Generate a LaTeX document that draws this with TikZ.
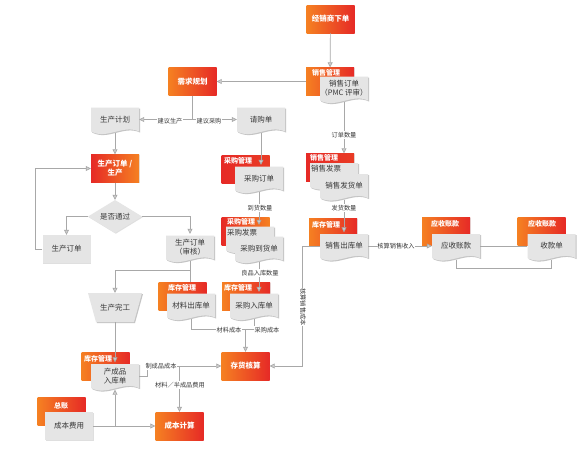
\documentclass[tikz,border=0pt]{standalone}
\usepackage{fontspec}
\setmainfont{Noto Sans CJK SC}
\usetikzlibrary{arrows.meta,calc,shapes.geometric,shadows}
\definecolor{or1}{RGB}{245,128,34}
\definecolor{rd1}{RGB}{230,42,38}
\definecolor{docg}{RGB}{229,229,229}
\definecolor{shg}{RGB}{196,196,196}
\definecolor{lng}{RGB}{168,168,168}
\definecolor{txt}{RGB}{55,55,55}
\tikzset{
 obox/.style={rectangle, minimum width=48pt, minimum height=28pt, inner sep=1pt,
   left color=or1, right color=rd1, text=white, align=center,
   font=\fontsize{7.5}{9}\selectfont\bfseries,
   drop shadow={shadow xshift=0.8pt,shadow yshift=-0.8pt,opacity=0.2}},
 rbox/.style={obox, left color=rd1, right color=or1},
 redbox/.style={obox, left color=rd1, right color=rd1!80!or1},
 glabel/.style={text=white, font=\fontsize{7}{8}\selectfont\bfseries, inner sep=0pt},
 doctxt/.style={rectangle, minimum width=48pt, minimum height=27pt, inner sep=0pt,
   text=txt, align=center, font=\fontsize{7.5}{9}\selectfont},
 gbox/.style={rectangle, minimum width=48pt, minimum height=28pt, inner sep=1pt,
   fill=docg, text=txt, font=\fontsize{7.5}{9}\selectfont,
   drop shadow={shadow xshift=0.8pt,shadow yshift=-0.8pt,opacity=0.25}},
 diamondst/.style={diamond, aspect=1.64, minimum width=54pt, minimum height=33pt, inner sep=0pt,
   fill=docg, text=txt, font=\fontsize{7.5}{9}\selectfont,
   drop shadow={shadow xshift=0.8pt,shadow yshift=-0.8pt,opacity=0.25}},
 ln/.style={draw=lng, line width=0.7pt},
 arr/.style={ln, -{Triangle[width=5pt,length=5pt,fill=lng!55]}},
 lbl/.style={fill=white, text=txt, font=\fontsize{6.2}{7}\selectfont, inner sep=0.8pt},
 pics/docpic/.style={code={
   \fill[shg] (-23,-12.5) -- (25,-12.5) -- (25,11.5) .. controls (9,4) and (-7,20) .. (-23,11.5) -- cycle;
   \fill[docg] (-24,-13.5) -- (24,-13.5) -- (24,10.5) .. controls (8,3) and (-8,19) .. (-24,10.5) -- cycle;
 }}
}
\newcommand{\docn}[4]{%
  \pic at (#2,#3) {docpic};
  \node[doctxt] (#1) at (#2,#3-1.5) {#4};
}
\begin{document}
\begin{tikzpicture}[x=1pt,y=-1pt]
\fill[white] (0,0) rectangle (584,450);
\useasboundingbox (0,0) rectangle (584,450);

% ---- sales / planning
\node[obox] (jxs) at (330.5,19) {经销商下单};
\node[obox] (xs1) at (330,81.5) {};
\node[glabel] at (326,73) {销售管理};
\docn{xsdd}{344}{90}{销售订单\\（PMC 评审）}
\node[obox] (xq) at (192.5,81.5) {需求规划};
\docn{scjh}{115}{121}{生产计划}
\docn{qg}{261}{121}{请购单}

% ---- production
\node[rbox] (sc) at (115,168.5) {生产订单 /\\生产};
\node[diamondst] (sf) at (115,216.5) {是否通过};
\node[gbox] (rsc) at (66.5,249) {生产订单};
\docn{sh}{190}{249}{生产订单\\（审核）}

% ---- purchase
\node[redbox] (cg1) at (245.5,169) {};
\node[glabel] at (238,161) {采购管理};
\docn{cgdd}{259}{180}{采购订单}
\node[rbox] (cg2) at (245.5,231) {};
\node[glabel] at (241,222) {采购管理};
\docn{cgfp}{250}{240}{}
\node[doctxt, minimum width=0pt, minimum height=0pt] at (242,233) {采购发票};
\docn{cgdh}{259}{250}{采购到货单}

% ---- stock
\node[obox] (kc1) at (182.5,296) {};
\node[glabel] at (182,288) {库存管理};
\docn{cl}{191}{307}{材料出库单}
\node[obox] (kc2) at (246,296) {};
\node[glabel] at (238,288) {库存管理};
\docn{cgrk}{254}{307}{采购入库单}
\node[obox] (ch) at (245.5,366) {存货核算};

% ---- sales 2
\node[redbox] (xs2) at (330,167.5) {};
\node[glabel] at (324,158) {销售管理};
\docn{xsfp}{334}{176.5}{}
\node[doctxt, minimum width=0pt, minimum height=0pt] at (326,169) {销售发票};
\docn{xsfh}{344}{187.5}{销售发货单}
\node[obox] (kc3) at (333,232.5) {};
\node[glabel] at (326,225) {库存管理};
\docn{xsck}{344}{247.5}{销售出库单}

% ---- receivables
\node[obox] (ys1) at (446,231) {};
\node[glabel] at (445,224) {应收账款};
\docn{ys}{456}{247.5}{应收账款}
\node[obox] (ys2) at (541.5,231) {};
\node[glabel] at (542,224) {应收账款};
\docn{sk}{551.5}{247.5}{收款单}

% ---- completion / cost
\fill[shg] (89,294) -- (143,294) -- (135,323) -- (97,323) -- cycle;
\fill[docg] (88,293) -- (142,293) -- (134,322) -- (96,322) -- cycle;
\node[doctxt, minimum width=54pt, minimum height=29pt] (wg) at (115,307.5) {生产完工};
\node[obox] (kc4) at (105.5,366.5) {};
\node[glabel] at (98,359) {库存管理};
\docn{cp}{115}{377.5}{产成品\\入库单}
\node[obox] (zz) at (61.5,411.5) {};
\node[glabel] at (61,406) {总账};
\node[gbox] (cbfy) at (69,426) {成本费用};
\node[obox] (cb) at (179.5,426) {成本计算};

% ---- connectors
\draw[arr] (jxs) -- (xs1);
\draw[arr] (xs1) -- (xq);
\draw[arr] (xq.south) |- (scjh.east);
\draw[arr] (xq.south) |- (qg.west);
\node[lbl] at (170,121) {建议生产};
\node[lbl] at (209,121) {建议采购};
\draw[arr] (scjh) -- (sc);
\draw[arr] (sc) -- (sf);
\draw[arr] (sf.west) -| (rsc.north);
\draw[arr] (sf.east) -| (sh.north);
\draw[arr] (rsc.west) -- ++(-7,0) |- (sc.west);

\draw[arr] (qg.south) -- (qg.south |- cgdd.north);
\draw[arr] (cgdd.south) -- (cgdd.south |- cgfp.north);
\node[lbl] at (260,208) {到货数量};
\draw[arr] (cgdh.south) -- (cgdh.south |- cgrk.north);
\node[lbl] at (260,273) {良品入库数量};

\draw[ln] (sh.south) -- (sh.south |- kc1.north);
\coordinate (j2) at ($(sh.south)+(0,9)$);
\draw[arr] (j2) -| (wg.north);
\coordinate (j3) at ($(ch.north)+(0,-22)$);
\draw[ln] (cl.south) |- (j3);
\draw[ln] (cgrk.south) |- (j3);
\draw[arr] (j3) -- (ch.north);
\node[lbl] at (229,330) {材料成本};
\node[lbl] at (267,330) {采购成本};

\draw[arr] (xsdd.south) -- (xsdd.south |- xs2.north);
\node[lbl] at (344,135) {订单数量};
\draw[arr] (xsfh.south) -- (xsfh.south |- xsck.north);
\node[lbl] at (344,208) {发货数量};
\draw[arr] (xsck.east) -- (ys.west);
\node[lbl] at (396,246) {核算销售收入};
\draw[arr] (xsck.west) -- ++(-17,0) |- (ch.east);
\node[lbl, rotate=-90] at (303,307) {核算销售成本};
\draw[ln] (ys.east) -- (sk.west);
\draw[ln] (ys.south) -- ++(0,9) -| (sk.south);

\draw[arr] (wg.south) -- (cp.north);
\draw[arr] (cp.east) -- ++(8,0) |- (ch.west);
\coordinate (j4) at (cb.north |- ch.west);
\draw[arr] (j4) -- (cb.north);
\node[lbl] at (161,366) {制成品成本};
\node[lbl] at (180,385) {材料／半成品费用};
\draw[arr] (cbfy) -- (cb);
\draw[arr] (cbfy.east -| cp.south) -- (cp.south);
\end{tikzpicture}
\end{document}
